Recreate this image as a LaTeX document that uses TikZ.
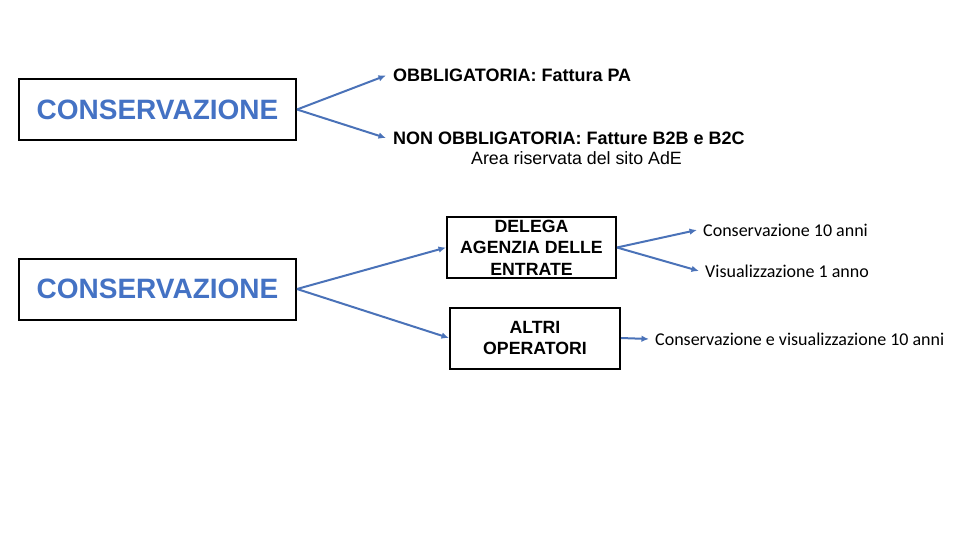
\documentclass[tikz,border=0pt]{standalone}
\usepackage{fontspec}
\setmainfont{Liberation Sans}
\newfontfamily\calfont{Carlito}
\usetikzlibrary{arrows.meta}
\definecolor{arrblue}{RGB}{74,114,184}
\definecolor{txtblue}{RGB}{68,114,196}
\tikzset{
  bigbox/.style={draw=black, line width=2pt, minimum width=277pt, minimum height=61pt, inner sep=0pt,
     font=\fontsize{28}{30}\selectfont\bfseries, text=txtblue},
  midbox/.style={draw=black, line width=2pt, minimum height=61pt, inner sep=0pt, align=center,
     font=\fontsize{17.7}{21.5}\selectfont\bfseries},
  lbl/.style={anchor=west, inner xsep=7pt, inner ysep=2pt, font=\fontsize{18}{20}\selectfont\bfseries},
  clbl/.style={anchor=west, inner xsep=6pt, inner ysep=2pt, font=\calfont\fontsize{18}{20}\selectfont},
  arr/.style={draw=arrblue, line width=2pt, -{Latex[length=7.5pt,width=6.5pt]}}
}
\begin{document}
\begin{tikzpicture}[x=1pt,y=-1pt]
\useasboundingbox (0,0) rectangle (960,540);
% left boxes
\node[bigbox] (c1) at (157.5,109.5) {CONSERVAZIONE};
\node[bigbox] (c2) at (157.5,289) {CONSERVAZIONE};
% top branch
\node[lbl] (ob) at (386,75.5) {OBBLIGATORIA: Fattura PA};
\node[lbl] (nob) at (386,138) {NON OBBLIGATORIA: Fatture B2B e B2C};
\node[font=\fontsize{17.8}{20}\selectfont, inner sep=1pt] (area) at (576.5,158.5) {Area riservata del sito AdE};
\draw[arr] (c1.east) -- (ob.west);
\draw[arr] (c1.east) -- (nob.west);
% bottom branch
\node[midbox, minimum width=169pt] (del) at (531.5,247.5) {DELEGA\\AGENZIA DELLE\\ENTRATE};
\node[midbox, minimum width=170pt, font=\fontsize{17.7}{21}\selectfont\bfseries] (alt) at (535,338) {ALTRI\\OPERATORI};
\draw[arr] (c2.east) -- (del.west);
\draw[arr] (c2.east) -- (alt.west);
% right texts
\node[clbl] (c10) at (697,230) {Conservazione 10 anni};
\node[clbl] (vis) at (699,271) {Visualizzazione 1 anno};
\node[clbl] (cev) at (649,339) {Conservazione e visualizzazione 10 anni};
\draw[arr] (del.east) -- (c10.west);
\draw[arr] (del.east) -- (vis.west);
\draw[arr] (alt.east) -- (cev.west);
\end{tikzpicture}
\end{document}
